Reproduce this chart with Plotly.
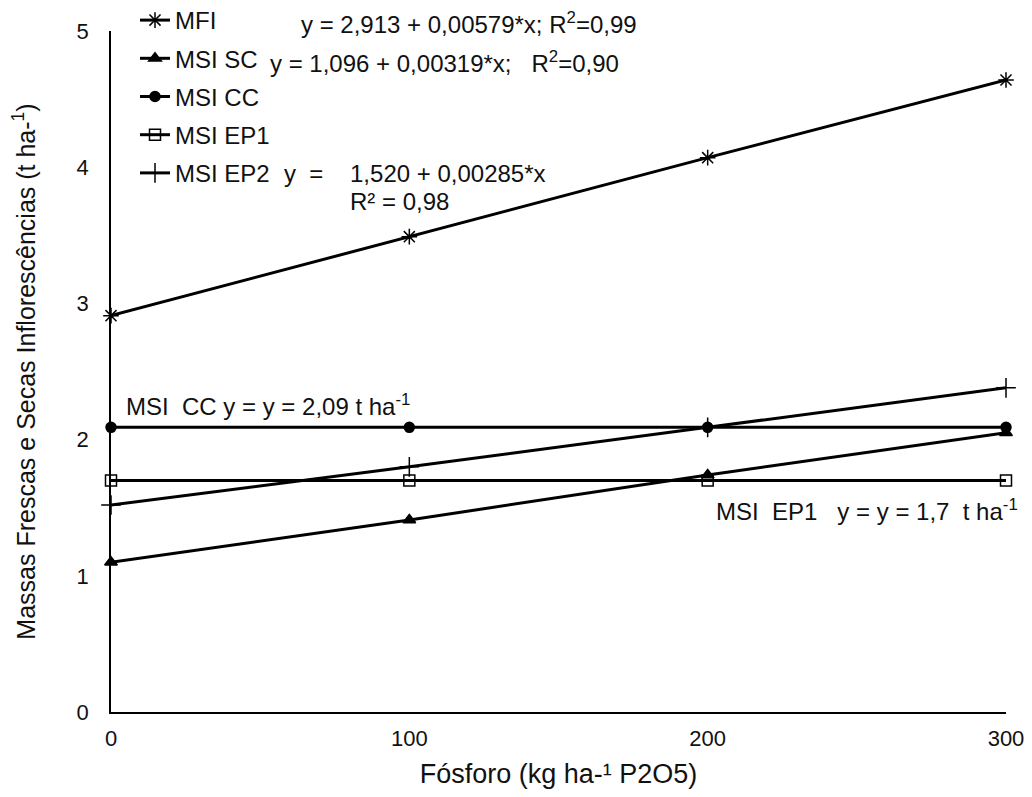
import plotly.graph_objects as go

doses = [0, 100, 200, 300]
mfi = [2.91, 3.49, 4.07, 4.64]
msi_sc = [1.10, 1.41, 1.74, 2.05]
msi_cc = [2.09, 2.09, 2.09, 2.09]
msi_ep1 = [1.70, 1.70, 1.70, 1.70]
msi_ep2 = [1.52, 1.80, 2.09, 2.38]
series_names = ["MFI", "MSI SC", "MSI CC", "MSI EP1", "MSI EP2"]
tick_x = ["0", "100", "200", "300"]
tick_y = [0, 1, 2, 3, 4, 5]

FONT = "Liberation Sans, Arial, sans-serif"
TXT = "#111"
NB = "&nbsp;"
styles = [("asterisk-open", 13), ("triangle-up", 11), ("circle", 10),
          ("square-open", 11), ("cross-thin-open", 14)]
values = [mfi, msi_sc, msi_cc, msi_ep1, msi_ep2]

# page offset (body margin) and figure geometry
OFF = 8
W, H = 1016, 781
L, R, T, B = 103, 18, 23, 77
pw, ph = W - L - R, H - T - B

def px(xs):  # screen x -> plot paper x
    return (xs - OFF - L) / pw

def py(ys):  # screen y -> plot paper y
    return (H - B - (ys - OFF)) / ph

fig = go.Figure()
for i, (name, ys, (sym, sz)) in enumerate(zip(series_names, values, styles)):
    fig.add_trace(go.Scatter(
        x=doses, y=ys, name=name, mode="lines+markers",
        legendgroup=str(i),
        line=dict(color="black", width=3),
        marker=dict(symbol=sym, size=sz, color="black",
                    line=dict(color="black", width=1.5)),
        cliponaxis=False,
    ))

ann = [
    (299, 23, "y = 2,913 + 0,00579*x; R<sup>2</sup>=0,99", "left"),
    (268, 62, f"y = 1,096 + 0,00319*x;{NB}{NB} R<sup>2</sup>=0,90", "left"),
    (282, 174, f"y{NB} ={NB}{NB}{NB} 1,520 + 0,00285*x", "left"),
    (348, 202, "R² = 0,98", "left"),
    (124, 405, f"MSI{NB} CC y = y = 2,09 t ha<sup>-1</sup>", "left"),
    (1020, 510, f"MSI{NB} EP1{NB}{NB} y = y = 1,7{NB} t ha<sup>-1</sup>", "right"),
]
annotations = [
    dict(x=px(x), y=py(y), xref="paper", yref="paper", xanchor=xa, yanchor="middle",
         text=t, showarrow=False, font=dict(family=FONT, size=24, color=TXT))
    for x, y, t, xa in ann
]

fig.update_layout(
    width=W, height=H,
    margin=dict(l=L, r=R, t=T, b=B, autoexpand=False),
    plot_bgcolor="white", paper_bgcolor="white",
    font=dict(family=FONT, size=22, color=TXT),
    showlegend=True,
    legend=dict(
        x=px(135), y=py(-2), xref="paper", yref="paper",
        xanchor="left", yanchor="top",
        font=dict(family=FONT, size=24, color=TXT),
        bgcolor="rgba(0,0,0,0)", tracegroupgap=4, itemwidth=30,
    ),
    annotations=annotations,
    xaxis=dict(
        range=[0, 300], tickvals=doses, ticktext=tick_x,
        showline=True, linecolor="black", linewidth=2, showgrid=False,
        zeroline=False, ticks="outside", ticklen=6, tickcolor="rgba(0,0,0,0)",
        automargin=False, ticklabeloverflow="allow",
        tickfont=dict(size=22, color=TXT),
        title=dict(text="Fósforo (kg ha-¹ P2O5)", font=dict(size=27, color=TXT), standoff=24),
    ),
    yaxis=dict(
        range=[0, 5], tickvals=tick_y,
        showline=True, linecolor="black", linewidth=1.5, showgrid=False,
        zeroline=False, ticks="outside", ticklen=16, tickcolor="rgba(0,0,0,0)",
        automargin=False,
        tickfont=dict(size=22, color=TXT),
        title=dict(text="Massas Frescas e Secas Inflorescências (t ha-<sup>1</sup>)",
                   font=dict(size=25, color=TXT), standoff=44),
    ),
)

fig.write_html("out.html")
